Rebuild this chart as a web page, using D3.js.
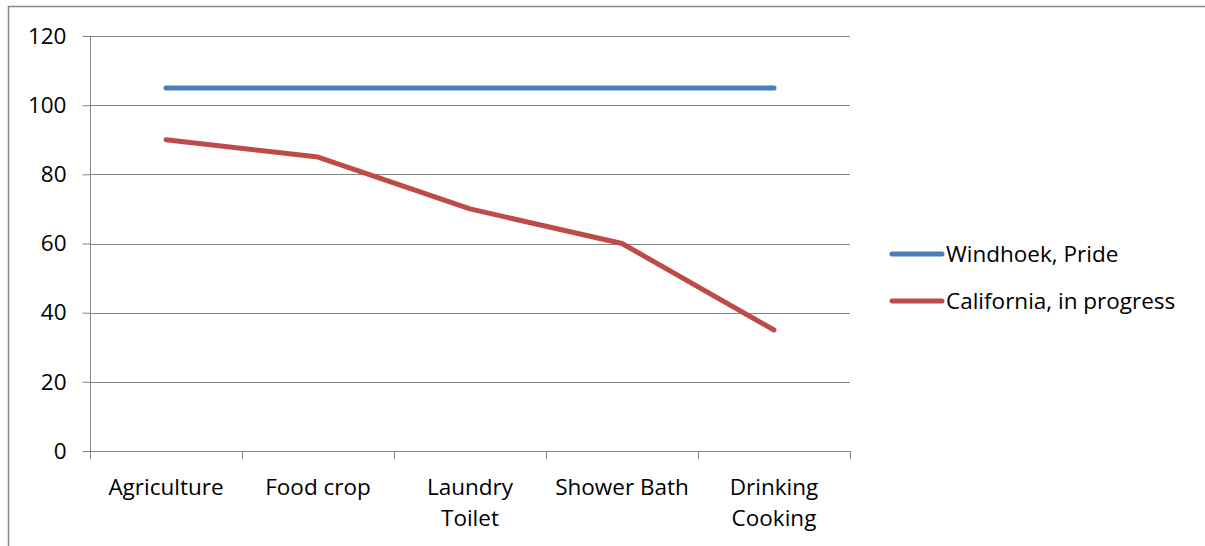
<!DOCTYPE html>
<html>
<head>
<meta charset="utf-8">
<script src="https://cdn.jsdelivr.net/npm/d3@7"></script>
<style>
  html, body { margin: 0; padding: 0; background: #fff; }
  svg { display: block; }
  text { font-family: "Open Sans", "Noto Sans", sans-serif; fill: #000; }
</style>
</head>
<body>
<svg id="chart" width="1205" height="546"></svg>
<script>
// Categories (multi-line labels split on "\n")
const categories = ["Agriculture", "Food crop", "Laundry\nToilet", "Shower Bath", "Drinking\nCooking"];
const windhoek = [105, 105, 105, 105, 105];
const california = [90, 85, 70, 60, 35];
const yTicks = [0, 20, 40, 60, 80, 100, 120];
const seriesNames = ["Windhoek, Pride", "California, in progress"];
const seriesColors = ["#4A7EBB", "#BE4B48"];

const fontSize = "22.5px";
const svg = d3.select("#chart");

// outer chart frame (extends past the right and bottom edges)
svg.append("rect")
  .attr("x", 8.5).attr("y", 6.5)
  .attr("width", 1260).attr("height", 600)
  .attr("fill", "none").attr("stroke", "#898989").attr("stroke-width", 1.5);

const plot = { left: 90, right: 850, top: 36, bottom: 451 };

const x = d3.scaleBand().domain(categories).range([plot.left, plot.right]).padding(0);
const y = d3.scaleLinear().domain([0, 120]).range([plot.bottom, plot.top]);

const gridColor = "#868686";

// horizontal gridlines
svg.append("g").selectAll("line").data(yTicks.filter(d => d > 0)).join("line")
  .attr("x1", plot.left).attr("x2", plot.right)
  .attr("y1", d => Math.round(y(d)) + 0.5).attr("y2", d => Math.round(y(d)) + 0.5)
  .attr("stroke", gridColor).attr("stroke-width", 1);

// y axis
const yAxis = svg.append("g")
  .attr("transform", `translate(${plot.left + 0.5},0)`)
  .call(d3.axisLeft(y).tickValues(yTicks).tickSize(8).tickPadding(16));
yAxis.select(".domain").attr("stroke", gridColor).attr("d", `M0,${plot.bottom}V${plot.top}`);
yAxis.selectAll(".tick line").attr("stroke", gridColor);
yAxis.selectAll(".tick text").style("font-size", fontSize).style("font-family", "'Open Sans', sans-serif");

// x axis line and category boundary ticks
const xg = svg.append("g");
xg.append("line")
  .attr("x1", plot.left).attr("x2", plot.right)
  .attr("y1", plot.bottom + 0.5).attr("y2", plot.bottom + 0.5)
  .attr("stroke", gridColor);
const bounds = categories.map(c => x(c)).concat([plot.right]);
xg.selectAll("line.b").data(bounds).join("line").attr("class", "b")
  .attr("x1", d => Math.round(d) + 0.5).attr("x2", d => Math.round(d) + 0.5)
  .attr("y1", plot.bottom).attr("y2", plot.bottom + 8)
  .attr("stroke", gridColor);

// category labels
xg.selectAll("text").data(categories).join("text")
  .attr("x", d => x(d) + x.bandwidth() / 2)
  .attr("y", plot.bottom + 44)
  .attr("text-anchor", "middle")
  .style("font-size", fontSize)
  .each(function(d) {
    const lines = d.split("\n");
    d3.select(this).selectAll("tspan").data(lines).join("tspan")
      .attr("x", x(d) + x.bandwidth() / 2)
      .attr("dy", (l, i) => i === 0 ? 0 : 31)
      .text(l => l);
  });

// series lines
const line = d3.line()
  .x((d, i) => x(categories[i]) + x.bandwidth() / 2)
  .y(d => y(d));

[windhoek, california].forEach((vals, i) => {
  svg.append("path")
    .datum(vals)
    .attr("d", line)
    .attr("fill", "none")
    .attr("stroke", seriesColors[i])
    .attr("stroke-width", 5)
    .attr("stroke-linecap", "round")
    .attr("stroke-linejoin", "round");
});

// legend
const legend = svg.append("g");
const legendY = [254, 301];
seriesNames.forEach((name, i) => {
  legend.append("line")
    .attr("x1", 892).attr("x2", 942)
    .attr("y1", legendY[i]).attr("y2", legendY[i])
    .attr("stroke", seriesColors[i]).attr("stroke-width", 5)
    .attr("stroke-linecap", "round");
  legend.append("text")
    .attr("x", 946).attr("y", legendY[i] + 8)
    .style("font-size", fontSize)
    .text(name);
});
</script>
</body>
</html>
